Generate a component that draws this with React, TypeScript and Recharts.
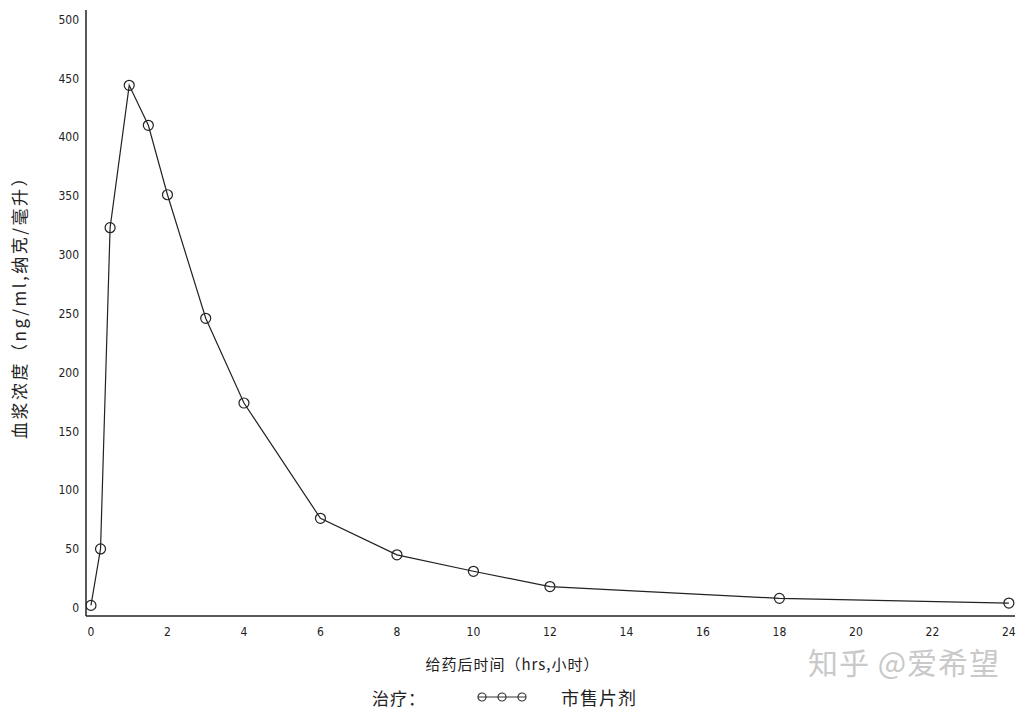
import { LineChart, Line, XAxis, YAxis, Label } from "recharts";

const times = [0, 0.25, 0.5, 1, 1.5, 2, 3, 4, 6, 8, 10, 12, 18, 24];
const concentration = [2, 50, 323, 444, 410, 351, 246, 174, 76, 45, 31, 18, 8, 4];
const xTicks = [0, 2, 4, 6, 8, 10, 12, 14, 16, 18, 20, 22, 24];
const yTicks = [0, 50, 100, 150, 200, 250, 300, 350, 400, 450, 500];

const data = times.map((t, i) => ({ t, c: concentration[i] }));

const CJK = '"Noto Sans CJK SC", "DejaVu Sans", sans-serif';
const NUM = '"DejaVu Sans Condensed", "DejaVu Sans", sans-serif';

const LegendBox = () => (
  <div
    style={{
      display: "flex",
      alignItems: "center",
      fontFamily: CJK,
      fontSize: 17,
      color: "#222",
    }}
  >
    <span style={{ marginLeft: 372, letterSpacing: 1 }}>治疗：</span>
    <svg width={52} height={12} style={{ marginLeft: 50 }}>
      <line x1={2} y1={6} x2={50} y2={6} stroke="#333" strokeWidth={1} />
      {[6, 26, 46].map((cx) => (
        <circle key={cx} cx={cx} cy={6} r={4} fill="none" stroke="#333" strokeWidth={1.2} />
      ))}
    </svg>
    <span style={{ marginLeft: 33, fontSize: 18, letterSpacing: 1 }}>市售片剂</span>
  </div>
);

export default function App() {
  return (
    <div style={{ position: "absolute", left: 0, top: 0, width: 1025, height: 712, background: "#fff" }}>
      <LineChart
        width={1025}
        height={712}
        data={data}
        margin={{ top: 10, right: 10, bottom: 36, left: 0 }}
      >
        <XAxis
          dataKey="t"
          type="number"
          domain={[-0.13, 24.16]}
          ticks={xTicks}
          allowDataOverflow
          interval={0}
          height={60}
          tickLine={false}
          tickSize={0}
          tickMargin={11}
          axisLine={{ stroke: "#222", strokeWidth: 1.5 }}
          tick={{ fontSize: 12, fill: "#222", fontFamily: NUM }}
        >
          <Label
            value="给药后时间（hrs,小时）"
            position="insideBottom"
            offset={6}
            dx={-38}
            style={{ fontSize: 15, fill: "#222", fontFamily: CJK, letterSpacing: 1 }}
          />
        </XAxis>
        <YAxis
          type="number"
          domain={[-7, 508]}
          ticks={yTicks}
          allowDataOverflow
          interval={0}
          width={86}
          tickLine={false}
          tickSize={0}
          tickMargin={7}
          axisLine={{ stroke: "#222", strokeWidth: 1.5 }}
          tick={{ fontSize: 12, fill: "#222", fontFamily: NUM }}
        >
          <Label
            value="血浆浓度（ng/ml,纳克/毫升）"
            angle={-90}
            position="insideLeft"
            offset={20}
            dy={-10}
            style={{ fontSize: 17, fill: "#222", fontFamily: CJK, textAnchor: "middle", letterSpacing: 2.5 }}
          />
        </YAxis>
        <Line
          type="linear"
          dataKey="c"
          stroke="#222"
          strokeWidth={1.2}
          dot={{ r: 5, fill: "none", stroke: "#222", strokeWidth: 1.2 }}
          activeDot={false}
          isAnimationActive={false}
        />
      </LineChart>
      <div style={{ position: "absolute", left: 0, top: 684, width: 1025 }}>
        <LegendBox />
      </div>
      <div
        style={{
          position: "absolute",
          left: 808,
          top: 643,
          fontFamily: CJK,
          fontSize: 30,
          lineHeight: "36px",
          color: "#c9c9c9",
          letterSpacing: 1,
          whiteSpace: "nowrap",
        }}
      >
        知乎 @爱希望
      </div>
    </div>
  );
}
